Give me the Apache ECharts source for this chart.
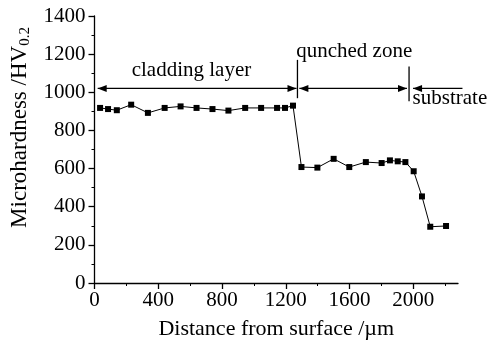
<!DOCTYPE html>
<html>
<head>
<meta charset="utf-8">
<script src="https://cdn.jsdelivr.net/npm/echarts@6/dist/echarts.min.js"></script>
<style>
  html, body { margin: 0; padding: 0; background: #fff; }
  #chart { width: 488px; height: 345px; }
</style>
</head>
<body>
<div id="chart"></div>
<script>
// measured hardness profile
const distance = [35, 85, 140, 230, 335, 440, 540, 640, 740, 840, 945, 1045, 1145, 1195, 1245,
  1298, 1398, 1500, 1598, 1702, 1801, 1853, 1902, 1950, 2002, 2054, 2106, 2205];
const hardness = [918, 912, 906, 935, 892, 918, 926, 918, 912, 904, 918, 918, 918, 918, 930,
  608, 605, 651, 608, 634, 629, 643, 638, 634, 586, 454, 295, 299];
const xTicks = [0, 400, 800, 1200, 1600, 2000];

// zone annotations (data units)
const zoneArrowY = 1020;
const cladding = { from: 20, to: 1267, label: 'cladding layer', labelX: 608, labelY: 1113 };
const quenched = { from: 1285, to: 1960, label: 'qunched zone', labelX: 1265, labelY: 1216 };
const substrate = { from: 1998, to: 2308, label: 'substrate', labelX: 1995, labelY: 969 };
const boundaries = [
  { x: 1273, y1: 969, y2: 1170 },
  { x: 1973, y1: 953, y2: 1135 }
];

const font = 'Liberation Serif';
const chart = echarts.init(document.getElementById('chart'));

chart.setOption({
  backgroundColor: '#fff',
  animation: false,
  grid: { left: 91, right: 30, top: 16, bottom: 57 },
  xAxis: {
    type: 'value',
    min: 0,
    max: 2280,
    interval: 400,
    name: 'Distance from surface /\u00b5m',
    nameLocation: 'middle',
    nameGap: 35,
    nameTextStyle: { fontFamily: font, fontSize: 22, color: '#000' },
    axisLine: { lineStyle: { color: '#000', width: 1.3 } },
    axisTick: { length: 6, lineStyle: { color: '#000', width: 1.3 }, customValues: xTicks },
    minorTick: { show: true, splitNumber: 2, length: 3, lineStyle: { color: '#000', width: 1 } },
    axisLabel: { customValues: xTicks, formatter: v => String(v), fontFamily: font, fontSize: 21, color: '#000', margin: 7 },
    splitLine: { show: false }
  },
  yAxis: {
    type: 'value',
    min: 0,
    max: 1400,
    interval: 200,
    name: '{a|Microhardness /HV}{b|0.2}',
    nameLocation: 'middle',
    nameGap: 62,
    nameTextStyle: {
      padding: [0, 0, 0, 44],
      rich: {
        a: { fontFamily: font, fontSize: 23, color: '#000' },
        b: { fontFamily: font, fontSize: 15, color: '#000', padding: [11, 0, 0, 0] }
      }
    },
    axisLine: { show: true, lineStyle: { color: '#000', width: 1.3 } },
    axisTick: { show: true, length: 6, lineStyle: { color: '#000', width: 1.3 } },
    minorTick: { show: true, splitNumber: 2, length: 3, lineStyle: { color: '#000', width: 1 } },
    axisLabel: { formatter: v => String(v), fontFamily: font, fontSize: 21, color: '#000', margin: 9 },
    splitLine: { show: false }
  },
  series: [{
    type: 'line',
    data: distance.map((d, i) => [d, hardness[i]]),
    symbol: 'rect',
    symbolSize: 6,
    itemStyle: { color: '#000' },
    lineStyle: { color: '#000', width: 1 }
  }]
});

// annotations placed through the axes
const px = (x, y) => chart.convertToPixel({ xAxisIndex: 0, yAxisIndex: 0 }, [x, y]);
const lineStyle = { stroke: '#000', lineWidth: 1.3 };
const graphics = [];

function head(tip, dir) {
  return {
    type: 'polygon',
    shape: { points: [[tip[0], tip[1]], [tip[0] - dir * 9, tip[1] - 3.5], [tip[0] - dir * 9, tip[1] + 3.5]] },
    style: { fill: '#000' }
  };
}
function arrow(zone, leftHead, rightHead) {
  const a = px(zone.from, zoneArrowY), b = px(zone.to, zoneArrowY);
  graphics.push({ type: 'line', shape: { x1: a[0], y1: a[1], x2: b[0], y2: b[1] }, style: lineStyle });
  if (leftHead) graphics.push(head(a, -1));
  if (rightHead) graphics.push(head(b, 1));
}
function label(zone, align) {
  const p = px(zone.labelX, zone.labelY);
  graphics.push({
    type: 'text', x: p[0], y: p[1],
    style: { text: zone.label, font: '21px "' + font + '"', fill: '#000', align: align, verticalAlign: 'middle' }
  });
}

arrow(cladding, true, true);
arrow(quenched, true, true);
arrow(substrate, true, false);
boundaries.forEach(b => {
  const p1 = px(b.x, b.y1), p2 = px(b.x, b.y2);
  graphics.push({ type: 'line', shape: { x1: p1[0], y1: p1[1], x2: p2[0], y2: p2[1] }, style: lineStyle });
});
label(cladding, 'center');
label(quenched, 'left');
label(substrate, 'left');

chart.setOption({ graphic: graphics });
</script>
</body>
</html>
